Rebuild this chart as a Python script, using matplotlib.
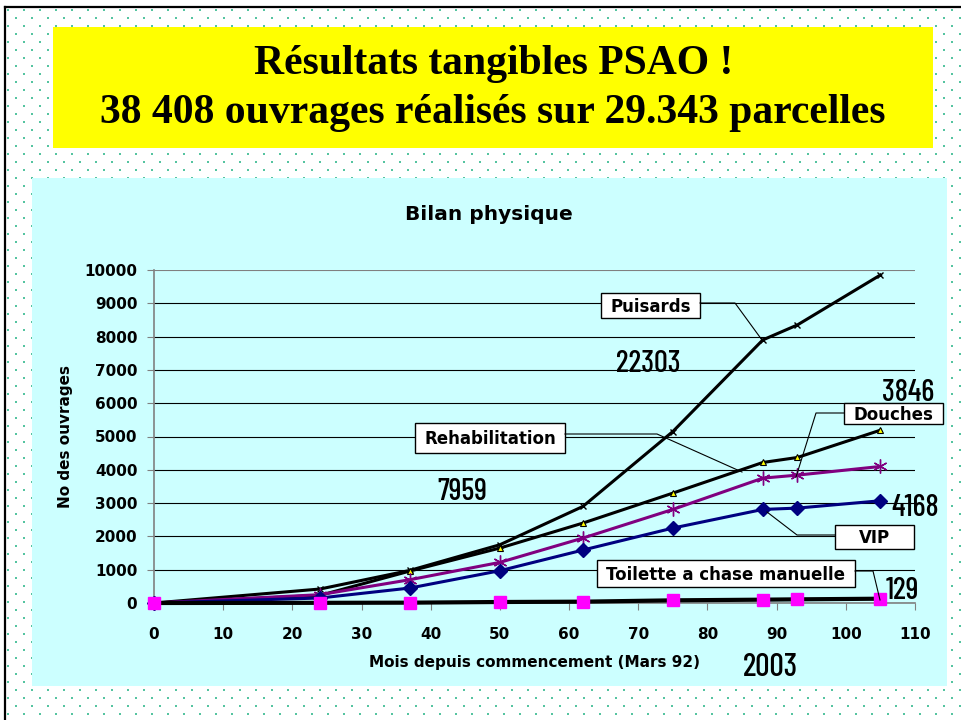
import matplotlib
matplotlib.use("Agg")
import matplotlib.pyplot as plt
import numpy as np
from matplotlib.patches import Rectangle

# données
mois = [0, 24, 37, 50, 62, 75, 88, 93, 105]
puisards = [0, 420, 980, 1750, 2900, 5150, 7900, 8350, 9850]
douches = [0, 230, 960, 1650, 2400, 3300, 4220, 4370, 5190]
rehabilitation = [0, 250, 700, 1220, 1950, 2810, 3750, 3840, 4100]
vip = [0, 150, 450, 970, 1590, 2250, 2810, 2850, 3070]
toilette = [0, 5, 10, 30, 40, 80, 100, 110, 129]

y_ticks = list(range(0, 10001, 1000))
x_ticks = list(range(0, 111, 10))

titre1 = "Résultats tangibles PSAO !"
titre2 = "38 408 ouvrages réalisés sur 29.343 parcelles"
totaux = ["22303", "7959", "3846", "4168", "129"]

W, H = 961, 720
NARROW = ['Barlow Condensed', 'Archivo Narrow', 'DejaVu Sans']
BOLD = ['DejaVu Sans']

fig = plt.figure(figsize=(W / 100, H / 100), dpi=100)
fig.patch.set_facecolor('white')

# fond en pixels
bg = fig.add_axes([0, 0, 1, 1], zorder=0)
bg.set_xlim(0, W)
bg.set_ylim(H, 0)
bg.axis('off')

gx, gy = np.meshgrid(np.arange(8, W, 8), np.arange(10, H, 8))
mask = ((gx // 8 + gy // 8) % 2) == 0
bg.scatter(gx[mask], gy[mask], s=1.0, marker='s', color='#55c4a0', linewidths=0)

bg.plot([5, W], [7, 7], color='black', lw=1.6)
bg.plot([5, 5], [7, H], color='black', lw=1.6)

bg.add_patch(Rectangle((53, 27), 880, 121, facecolor='#ffff00', edgecolor='none'))
bg.text(494, 64, titre1, ha='center', va='center', fontsize=30,
        family='Liberation Serif', fontweight='bold')
bg.text(493, 113, titre2, ha='center', va='center', fontsize=30,
        family='Liberation Serif', fontweight='bold')

bg.add_patch(Rectangle((32, 178), 915, 508, facecolor='#ccffff', edgecolor='none'))

# graphique
ax = fig.add_axes([154 / W, 1 - 603 / H, (915 - 154) / W, (603 - 270) / H], zorder=1)
ax.patch.set_alpha(0)
ax.set_xlim(0, 110)
ax.set_ylim(0, 10000)
ax.set_xticks(x_ticks)
ax.set_yticks(y_ticks)
ax.set_xticklabels([str(v) for v in x_ticks], fontsize=11, fontweight='bold', family=BOLD)
ax.set_yticklabels([str(v) for v in y_ticks], fontsize=11, fontweight='bold', family=BOLD)
ax.tick_params(axis='y', direction='out', length=5, color='#808080', pad=7)
ax.tick_params(axis='x', direction='out', length=5, color='#808080', pad=12)
for s in ['top', 'right']:
    ax.spines[s].set_visible(False)
for s in ['left', 'bottom']:
    ax.spines[s].set_color('#808080')
    ax.spines[s].set_linewidth(1.2)
ax.yaxis.grid(True, color='black', lw=0.8)
ax.get_ygridlines()[-1].set_color('#808080')
ax.set_axisbelow(True)

ax.plot(mois, puisards, color='black', lw=2.2, marker='x', ms=5,
        mec='black', mew=1, clip_on=False, zorder=3)
ax.plot(mois, douches, color='black', lw=2.2, marker='^', ms=5,
        mfc='#ffff00', mec='black', mew=0.8, clip_on=False, zorder=3)
ax.plot(mois, rehabilitation, color='#800080', lw=2.2, marker=(6, 2, 0), ms=10,
        mec='#800080', mew=1, clip_on=False, zorder=3)
ax.plot(mois, vip, color='#000080', lw=2.2, marker='D', ms=7,
        mfc='#000080', mec='#000080', clip_on=False, zorder=3)
ax.plot(mois, toilette, color='black', lw=3, marker='s', ms=8,
        mfc='#ff00ff', mec='#ff00ff', clip_on=False, zorder=4)

ax.set_title('Bilan physique', fontsize=14.5, fontweight='bold', family=BOLD,
             pad=36, x=(489 - 154) / (915 - 154))
ax.set_xlabel('Mois depuis commencement (Mars 92)', fontsize=11, fontweight='bold',
              family=BOLD, labelpad=10)
ax.set_ylabel('No des ouvrages', fontsize=11, fontweight='bold', family=BOLD, labelpad=8)

# étiquettes et totaux
ov = fig.add_axes([0, 0, 1, 1], zorder=2)
ov.set_xlim(0, W)
ov.set_ylim(H, 0)
ov.axis('off')

boites = [
    ('Puisards', 601, 293, 99, 25),
    ('Rehabilitation', 415, 423, 150, 30),
    ('Douches', 844, 403, 99, 21),
    ('VIP', 835, 525, 79, 24),
    ('Toilette a chase manuelle', 597, 560, 258, 27),
]
for nom, x0, y0, w, h in boites:
    ov.add_patch(Rectangle((x0, y0), w, h, facecolor='white', edgecolor='black', lw=1))
    ov.text(x0 + w / 2, y0 + h / 2 + 1, nom, ha='center', va='center',
            fontsize=12, fontweight='bold', family=BOLD)

guides = [
    ([700, 735, 762], [303, 303, 340]),
    ([565, 657, 742], [434, 434, 472]),
    ([844, 816, 796], [413, 413, 477]),
    ([835, 797, 767], [535, 535, 512]),
    ([855, 873, 880], [571, 571, 600]),
]
for xs, ys in guides:
    ov.plot(xs, ys, color='black', lw=0.8)

positions = [(648, 364), (462, 492), (908, 393), (915, 508), (902, 591)]
for txt, (px, py) in zip(totaux, positions):
    ov.text(px, py, txt, ha='center', va='center', fontsize=22,
            family=NARROW, fontweight=500)
ov.text(770, 667, '2003', ha='center', va='center', fontsize=23,
        family=NARROW, fontweight=500)

fig.savefig('out.png', dpi=100)
